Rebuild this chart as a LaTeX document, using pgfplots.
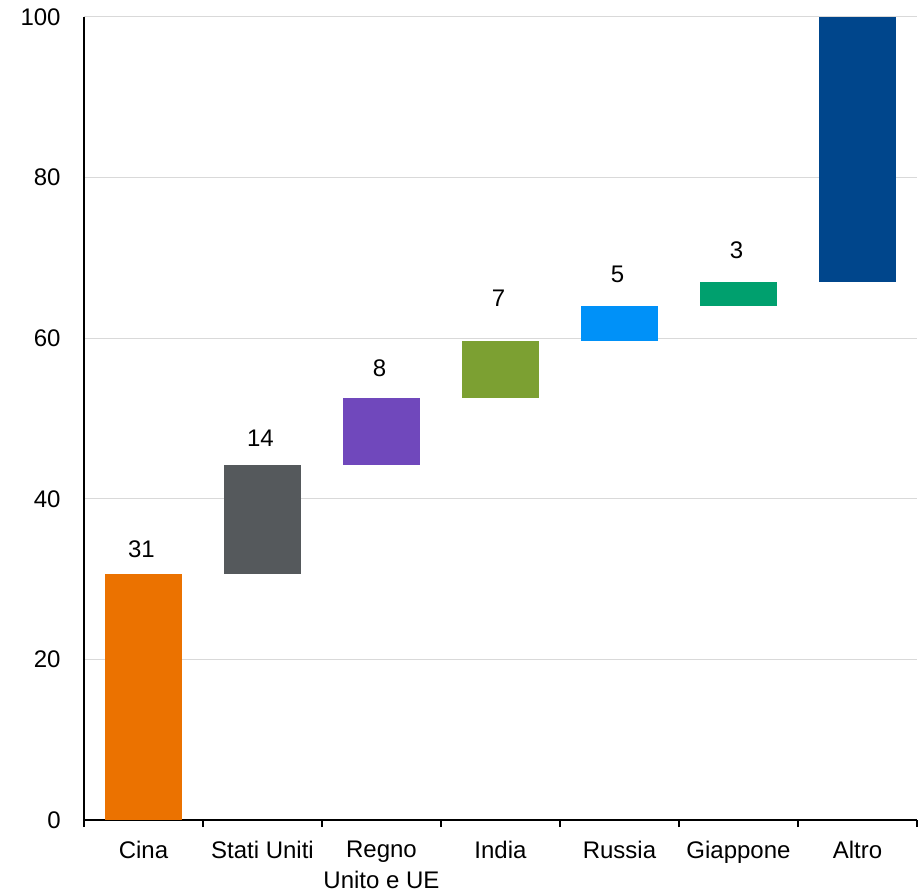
\documentclass[border=0pt]{standalone}
\usepackage{pgfplots}
\pgfplotsset{compat=1.18}
\usepackage{pgfplotstable}
\usepackage{fontspec}
\setmainfont{Liberation Sans}

\definecolor{cCina}{HTML}{EB7200}
\definecolor{cUSA}{HTML}{55595C}
\definecolor{cUE}{HTML}{7048BC}
\definecolor{cIndia}{HTML}{7CA032}
\definecolor{cRussia}{HTML}{0091F8}
\definecolor{cJap}{HTML}{00A06E}
\definecolor{cAltro}{HTML}{00468C}
\definecolor{cGrid}{HTML}{D9D9D9}

\pgfplotstableread{
x base cina usa ue india russia jap altro
0 0 30.6 0 0 0 0 0 0
1 30.6 0 13.55 0 0 0 0 0
2 44.15 0 0 8.35 0 0 0 0
3 52.5 0 0 0 7.1 0 0 0
4 59.6 0 0 0 0 4.45 0 0
5 64.05 0 0 0 0 0 3.0 0
6 67.05 0 0 0 0 0 0 32.95
}\datatable

% label positions (bottom of the label text) and label text
\pgfplotstableread{
x pos lab
0 32.6 31
1 46.45 14
2 55.15 8
3 63.9 7
4 66.9 5
5 69.85 3
}\labeltable

\pgfplotsset{myaxis/.style={
  width=416.5pt, height=401.5pt, scale only axis,
  xmin=-0.5, xmax=6.5, ymin=0, ymax=100,
}}

\begin{document}
\fontsize{12}{15.5}\selectfont
\begin{tikzpicture}
\begin{axis}[myaxis,
  ybar stacked, bar width=0.647,
  /pgf/number format/assume math mode=true,
  axis x line*=bottom, axis y line*=left,
  x axis line style={-, line width=1.2pt, black},
  y axis line style={-, line width=1pt, black},
  xtick={0,...,6},
  xticklabels={Cina, Stati Uniti, {Regno\\Unito e UE}, India, Russia, Giappone, Altro},
  minor xtick={-0.5,0.5,...,6.5},
  major tick length=0pt,
  minor tick length=3.5pt,
  tick align=outside,
  major x tick style={draw=none},
  minor x tick style={black, line width=1pt},
  ytick={0,20,...,100},
  major y tick style={draw=none},
  ymajorgrids,
  major y grid style={cGrid, line width=0.5pt},
  xticklabel style={align=center, font=\fontsize{12}{15.5}\selectfont, yshift=-6.5pt},
  yticklabel style={font=\fontsize{12}{15.5}\selectfont, xshift=-7.5pt},
]
\addplot[draw=none, fill=none] table[x=x, y=base]{\datatable};
\addplot[draw=none, fill=cCina] table[x=x, y=cina]{\datatable};
\addplot[draw=none, fill=cUSA] table[x=x, y=usa]{\datatable};
\addplot[draw=none, fill=cUE] table[x=x, y=ue]{\datatable};
\addplot[draw=none, fill=cIndia] table[x=x, y=india]{\datatable};
\addplot[draw=none, fill=cRussia] table[x=x, y=russia]{\datatable};
\addplot[draw=none, fill=cJap] table[x=x, y=jap]{\datatable};
\addplot[draw=none, fill=cAltro] table[x=x, y=altro]{\datatable};
\end{axis}
\begin{axis}[myaxis, hide axis]
\addplot[only marks, mark=none, nodes near coords, point meta=explicit symbolic,
  every node near coord/.append style={anchor=south, inner sep=0pt, xshift=-1pt,
    font=\fontsize{12}{15.5}\selectfont, black}]
  table[x=x, y=pos, meta=lab]{\labeltable};
\end{axis}
\pgfresetboundingbox
\useasboundingbox (-42pt,-36pt) rectangle (420pt,410pt);
\end{tikzpicture}
\end{document}
